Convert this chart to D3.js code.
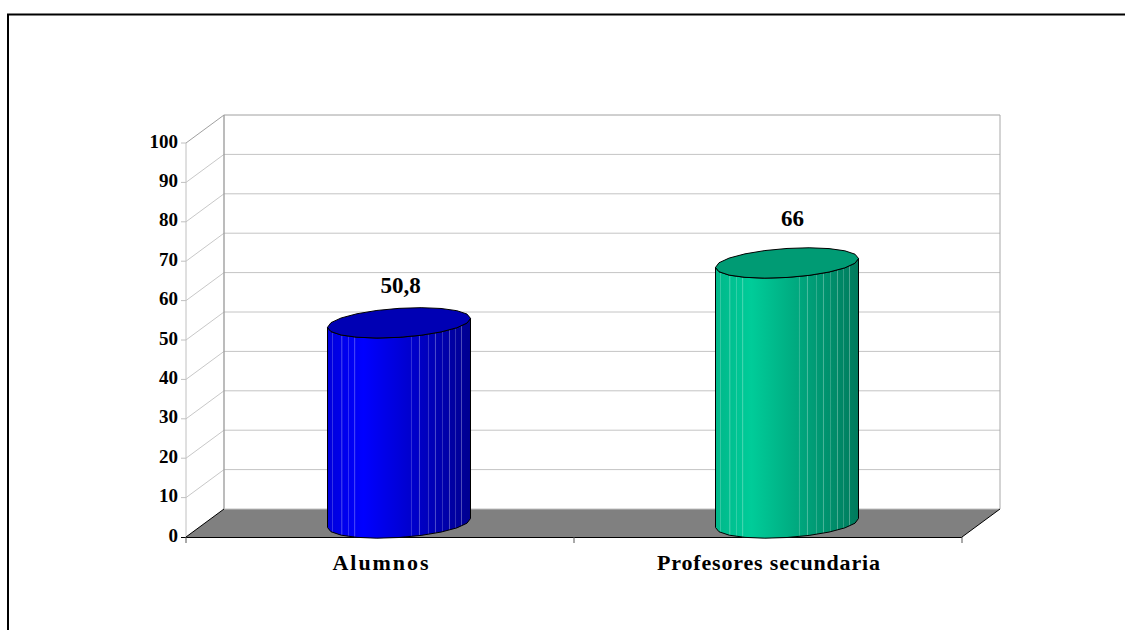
<!DOCTYPE html>
<html><head><meta charset="utf-8">
<script src="https://cdnjs.cloudflare.com/ajax/libs/d3/7.8.5/d3.min.js"></script>
<style>html,body{margin:0;background:#fff}svg{display:block}text{font-family:"Liberation Serif",serif;font-weight:bold;fill:#000}</style>
</head><body><svg width="1125" height="630"></svg>
<script>
const categories=["Alumnos","Profesores secundaria"];
const values=[50.8,66];
const valueLabels=["50,8","66"];
const ticks=[0,10,20,30,40,50,60,70,80,90,100];
const sideColors=[["#0000dc","#0000ff","#000090"],["#00b88a","#00cc99","#007a5c"]];
const topColors=["#0000b4","#009b74"];
// facet edges as fractions of the cylinder width
const facetEdges=[.035,.10,.147,.19,.587,.643,.706,.755,.804,.853,.895,.937];

const svg=d3.select("svg");
const dx=38,dy=28;
const x=d3.scaleBand().domain(categories).range([186,962]);
const y=d3.scaleLinear().domain([0,100]).range([537,143]);
const L=186,R=962;

// frame
svg.append("path").attr("d","M8,630V14.5H1125").attr("fill","none").attr("stroke","#000").attr("stroke-width",2);

// walls and gridlines
ticks.forEach(t=>{
  if(t===0)return;
  svg.append("line").attr("x1",L).attr("x2",L+dx).attr("y1",y(t)).attr("y2",y(t)-dy).attr("stroke",t===100?"#a0a0a0":"#c8c8c8");
  svg.append("line").attr("x1",L+dx).attr("x2",R+dx).attr("y1",y(t)-dy).attr("y2",y(t)-dy).attr("stroke",t===100?"#a0a0a0":"#c4c4c4");
  svg.append("line").attr("x1",L-5).attr("x2",L).attr("y1",y(t)).attr("y2",y(t)).attr("stroke","#c0c0c0");
});
svg.append("line").attr("x1",L).attr("x2",L).attr("y1",y(0)).attr("y2",y(100)).attr("stroke","#c0c0c0");
svg.append("line").attr("x1",L+dx).attr("x2",L+dx).attr("y1",y(0)-dy).attr("y2",y(100)-dy).attr("stroke","#a0a0a0").attr("stroke-width",1.4);
svg.append("line").attr("x1",R+dx).attr("x2",R+dx).attr("y1",y(0)-dy).attr("y2",y(100)-dy).attr("stroke","#a8a8a8");

// floor
svg.append("path").attr("d",`M${L},${y(0)}L${L+dx},${y(0)-dy}H${R+dx}L${R},${y(0)}Z`).attr("fill","#808080");
svg.append("line").attr("x1",L+dx).attr("x2",R+dx).attr("y1",y(0)-dy).attr("y2",y(0)-dy).attr("stroke","#c0c0c0");
svg.append("path").attr("d",`M${L},${y(0)}L${L+dx},${y(0)-dy}M${R+dx},${y(0)-dy}L${R},${y(0)}`).attr("stroke","#000").attr("fill","none");
svg.append("line").attr("x1",L-5).attr("x2",R).attr("y1",y(0)+.5).attr("y2",y(0)+.5).attr("stroke","#000");
[L,(L+R)/2,R].forEach(v=>svg.append("line").attr("x1",v).attr("x2",v).attr("y1",y(0)).attr("y2",y(0)+6).attr("stroke","#555"));

// tick labels
svg.selectAll(".tick").data(ticks).join("text").attr("x",178).attr("y",d=>y(d)+4.5).attr("text-anchor","end").attr("font-size",19).text(d=>d);

// cylinders
const rx=71.5,ry=14.5,skew=4.5;
const labelNudge=[[1.5,-30],[5.5,-37]], catWidth=[96,223];
const defs=svg.append("defs");
categories.forEach((c,i)=>{
  const cx=x(c)+x.bandwidth()/2+dx/2;
  const base=y(0)-dy/2, top=y(values[i])-dy/2;
  const g=defs.append("linearGradient").attr("id","g"+i);
  [[0,0],[.25,1],[1,2]].forEach(([o,k])=>g.append("stop").attr("offset",o).attr("stop-color",sideColors[i][k]));
  const pt=(a,cy)=>[cx+rx*Math.cos(a),cy+ry*Math.sin(a)-skew*Math.cos(a)];
  const front=d3.range(0,Math.PI+.001,Math.PI/10);
  const side=[...front.map(a=>pt(a,base)),...front.slice().reverse().map(a=>pt(a,top))];
  const clip="c"+i;
  defs.append("clipPath").attr("id",clip).append("path").attr("d",d3.line()(side)+"Z");
  svg.append("path").attr("d",d3.line()(side)+"Z").attr("fill",`url(#g${i})`);
  const f=d3.scaleLinear().domain([0,1]).range([cx-rx,cx+rx]);
  svg.append("g").attr("clip-path",`url(#${clip})`).selectAll("line").data(facetEdges).join("line")
    .attr("x1",d=>f(d)).attr("x2",d=>f(d)).attr("y1",top-20).attr("y2",base+20)
    .attr("stroke","#fff").attr("stroke-opacity",(d,j)=>j%2?.3:.2);
  svg.append("path").attr("d",d3.line()(side)+"Z").attr("fill","none").attr("stroke","#000").attr("stroke-width",1);
  const ring=d3.range(0,Math.PI*2-.001,Math.PI/10).map(a=>pt(a,top));
  svg.append("path").attr("d",d3.line()(ring)+"Z").attr("fill",topColors[i]).attr("stroke","#000").attr("stroke-width",1);
  svg.append("text").attr("x",cx+labelNudge[i][0]).attr("y",top+labelNudge[i][1]).attr("text-anchor","middle").attr("font-size",23).text(valueLabels[i]);
  svg.append("text").attr("x",x(c)+x.bandwidth()/2+.5).attr("y",570).attr("text-anchor","middle").attr("font-size",22)
    .attr("textLength",catWidth[i]).attr("lengthAdjust","spacing").text(c);
});
</script></body></html>
